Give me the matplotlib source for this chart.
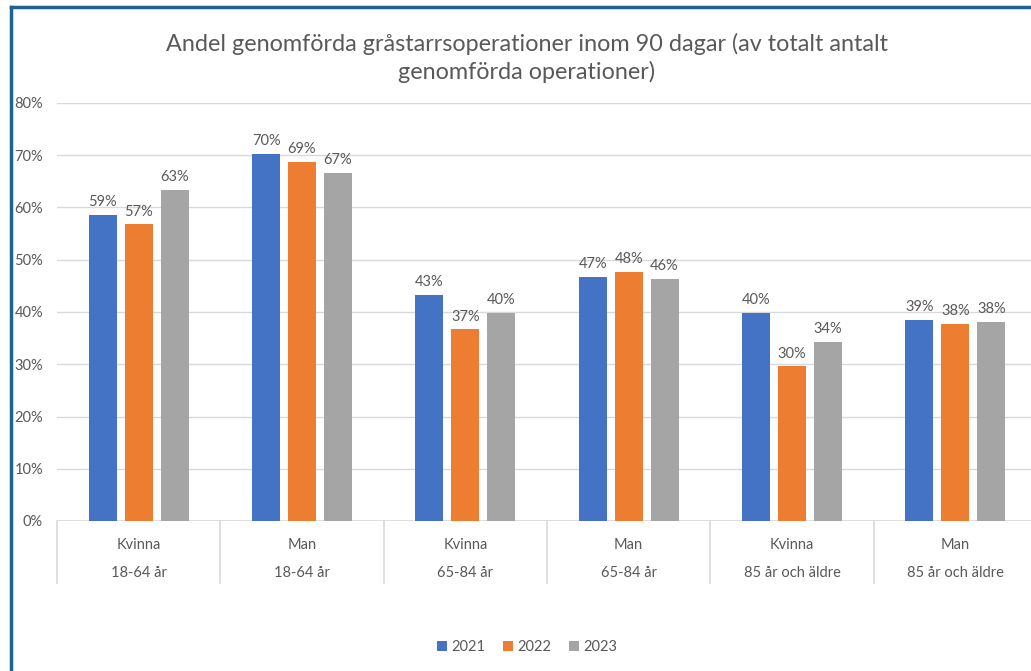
import matplotlib.pyplot as plt
from matplotlib.lines import Line2D
import matplotlib.transforms as mtransforms
import numpy as np

plt.rcParams['font.family'] = ['Lato', 'DejaVu Sans']

# data
kon = ['Kvinna', 'Man', 'Kvinna', 'Man', 'Kvinna', 'Man']
alder = ['18-64 år', '18-64 år', '65-84 år', '65-84 år', '85 år och äldre', '85 år och äldre']
years = ['2021', '2022', '2023']
v2021 = [58.6, 70.3, 43.3, 46.7, 39.8, 38.5]
v2022 = [56.8, 68.7, 36.7, 47.7, 29.6, 37.7]
v2023 = [63.4, 66.6, 39.9, 46.4, 34.3, 38.1]
labels2021 = ['59%', '70%', '43%', '47%', '40%', '39%']
labels2022 = ['57%', '69%', '37%', '48%', '30%', '38%']
labels2023 = ['63%', '67%', '40%', '46%', '34%', '38%']
yticks = [0, 10, 20, 30, 40, 50, 60, 70, 80]

colors = ['#4472C4', '#ED7D31', '#A5A5A5']
txt = '#595959'
grid = '#D9D9D9'

W, H = 1031, 671
fig = plt.figure(figsize=(W / 100, H / 100), dpi=100)
# plot area in pixels: x 57..1037, y 103..521
ax = fig.add_axes([57 / W, 1 - 521 / H, 980 / W, 418 / H])

x = np.arange(len(kon))
step = 0.22
bw = 0.172
series = [v2021, v2022, v2023]
lbls = [labels2021, labels2022, labels2023]
for j, (vals, lab) in enumerate(zip(series, lbls)):
    bars = ax.bar(x + (j - 1) * step, vals, width=bw, color=colors[j],
                  label=years[j], zorder=3)
    ax.bar_label(bars, labels=lab, padding=4, color=txt, fontsize=10.5)

ax.set_xlim(-0.5, len(kon) - 0.5)
ax.set_ylim(0, 80)
ax.set_yticks(yticks)
ax.set_yticklabels([f'{t}%' for t in yticks])
ax.tick_params(axis='y', length=0, pad=10, colors=txt, labelsize=10.5)
ax.tick_params(axis='x', length=0, labelbottom=False)
ax.yaxis.grid(True, color=grid, linewidth=1, zorder=0)
for s in ax.spines.values():
    s.set_visible(False)
ax.axhline(0, color=grid, linewidth=1.2, zorder=2)

# two-level category axis
trans = mtransforms.blended_transform_factory(ax.transData, ax.transAxes)
for i in range(len(kon) + 1):
    ax.plot([i - 0.5, i - 0.5], [0, -0.148], transform=trans, color=grid,
            linewidth=1.2, clip_on=False)
for i in range(len(kon)):
    ax.text(i, -0.057, kon[i], transform=trans, ha='center', va='center',
            color=txt, fontsize=10.5)
    ax.text(i, -0.124, alder[i], transform=trans, ha='center', va='center',
            color=txt, fontsize=10.5)

fig.text(527 / W, 1 - 58 / H,
         'Andel genomförda gråstarrsoperationer inom 90 dagar (av totalt antalt\ngenomförda operationer)',
         ha='center', va='center', fontsize=16.8, color=txt, linespacing=1.3)

fig.legend(loc='center', bbox_to_anchor=(527 / W, 1 - 647 / H), ncol=3,
           frameon=False, handlelength=0.7, handleheight=0.7,
           handletextpad=0.3, columnspacing=1.2, fontsize=10.5, labelcolor=txt)

# outer frame (top and left edges visible)
border = '#1F6391'
fig.add_artist(Line2D([11 / W, 11 / W], [0, 1 - 7 / H], transform=fig.transFigure,
                      color=border, linewidth=2.5))
fig.add_artist(Line2D([11 / W, 1], [1 - 7 / H, 1 - 7 / H], transform=fig.transFigure,
                      color=border, linewidth=2.5))

fig.savefig('out.png', dpi=100)
